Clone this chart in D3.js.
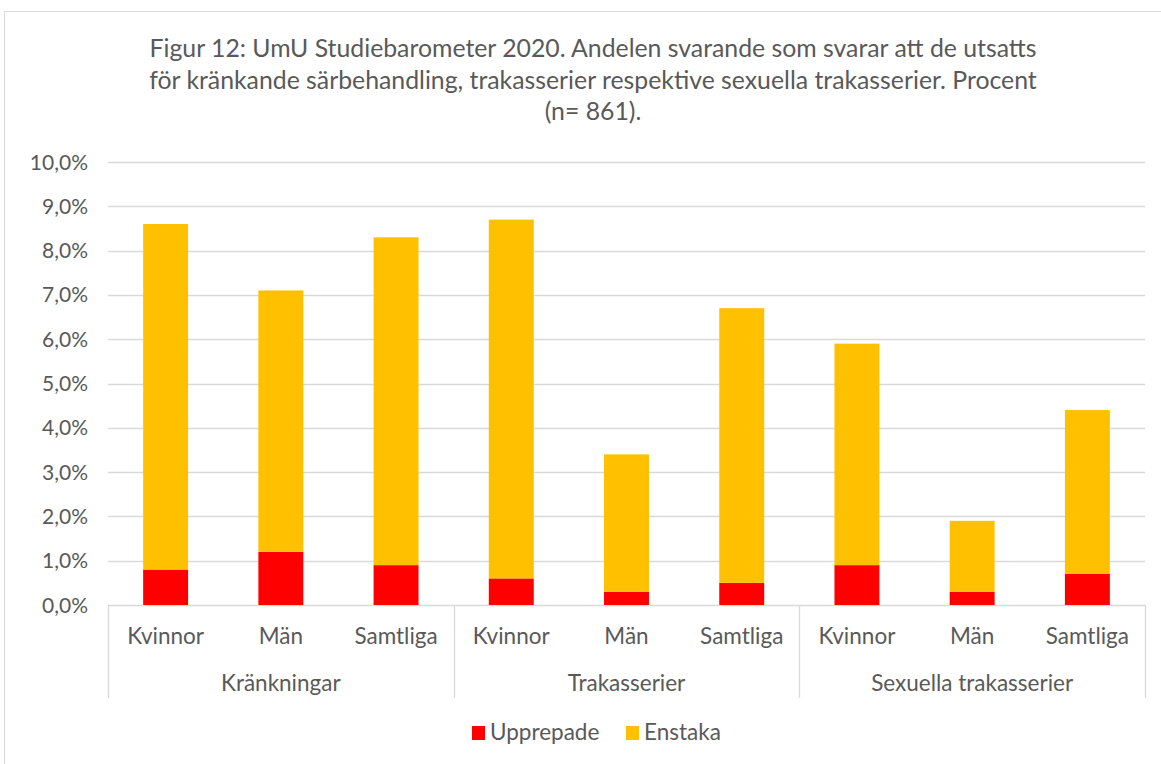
<!DOCTYPE html>
<html>
<head>
<meta charset="utf-8">
<script src="https://cdn.jsdelivr.net/npm/d3@7"></script>
<style>
  body { margin: 0; background: #fff; }
  text { font-family: Lato, "Open Sans", sans-serif; fill: #595959; }
</style>
</head>
<body>
<script>
// data
var groups = ["Kränkningar", "Trakasserier", "Sexuella trakasserier"];
var subCats = ["Kvinnor", "Män", "Samtliga"];
var upprepade = [0.8, 1.2, 0.9, 0.6, 0.3, 0.5, 0.9, 0.3, 0.7];
var enstaka = [7.8, 5.9, 7.4, 8.1, 3.1, 6.2, 5.0, 1.6, 3.7];
var yTicks = [0, 1, 2, 3, 4, 5, 6, 7, 8, 9, 10];
var titleLines = [
    "Figur 12: UmU Studiebarometer 2020. Andelen svarande som svarar att de utsatts",
    "för kränkande särbehandling, trakasserier respektive sexuella trakasserier. Procent",
    "(n= 861)."
];
var seriesNames = ["Upprepade", "Enstaka"];
var colors = ["#FF0000", "#FFC000"];

var W = 1161, H = 764;
var plotLeft = 108, plotRight = 1145, plotTop = 162, plotBottom = 605;

var svg = d3.select("body").append("svg")
    .attr("width", W).attr("height", H);

// chart border
svg.append("rect")
    .attr("x", 4.5).attr("y", 11.5)
    .attr("width", W + 20).attr("height", H + 20)
    .attr("fill", "none").attr("stroke", "#D9D9D9");

// title
svg.selectAll("text.title").data(titleLines).enter().append("text")
    .attr("class", "title")
    .attr("x", 593)
    .attr("y", function(d, i) { return 57 + i * 31.5; })
    .attr("text-anchor", "middle")
    .style("font-size", "24.8px")
    .text(function(d) { return d; });

var y = d3.scaleLinear().domain([0, 10]).range([plotBottom, plotTop]);

var keys = [];
groups.forEach(function(g) {
    subCats.forEach(function(c) { keys.push(g + "|" + c); });
});

var xGroup = d3.scaleBand().domain(groups).range([plotLeft, plotRight]);
var x = d3.scaleBand().domain(keys).range([plotLeft, plotRight]).paddingInner(0.61).paddingOuter(0.305);

// grid
svg.selectAll("line.grid").data(yTicks).enter().append("line")
    .attr("x1", plotLeft).attr("x2", plotRight)
    .attr("y1", function(d) { return Math.round(y(d)) + 0.5; })
    .attr("y2", function(d) { return Math.round(y(d)) + 0.5; })
    .attr("stroke", "#D9D9D9").attr("stroke-width", 1.3);

// y labels
svg.selectAll("text.ytick").data(yTicks).enter().append("text")
    .attr("x", 88)
    .attr("y", function(d) { return y(d) + 7.5; })
    .attr("text-anchor", "end")
    .style("font-size", "21px")
    .text(function(d) { return d.toFixed(1).replace(".", ",") + "%"; });

// stacked bars
var rows = keys.map(function(k, i) {
    return { key: k, Upprepade: upprepade[i], Enstaka: enstaka[i] };
});
var stacked = d3.stack().keys(seriesNames)(rows);

svg.selectAll("g.series").data(stacked).enter().append("g")
    .attr("fill", function(d, i) { return colors[i]; })
    .selectAll("rect").data(function(d) { return d; }).enter().append("rect")
    .attr("x", function(d) { return x(d.data.key); })
    .attr("width", x.bandwidth())
    .attr("y", function(d) { return y(d[1]); })
    .attr("height", function(d) { return y(d[0]) - y(d[1]); });

// category axis separators
var seps = groups.map(function(g) { return xGroup(g); }).concat([plotRight]);
svg.selectAll("line.sep").data(seps).enter().append("line")
    .attr("x1", function(d) { return Math.round(d) + 0.5; })
    .attr("x2", function(d) { return Math.round(d) + 0.5; })
    .attr("y1", plotBottom).attr("y2", 698)
    .attr("stroke", "#D9D9D9").attr("stroke-width", 1.3);

// sub category labels
svg.selectAll("text.cat").data(keys).enter().append("text")
    .attr("x", function(d) { return x(d) + x.bandwidth() / 2; })
    .attr("y", 644)
    .attr("text-anchor", "middle")
    .style("font-size", "22.5px")
    .text(function(d) { return d.split("|")[1]; });

// group labels
svg.selectAll("text.grp").data(groups).enter().append("text")
    .attr("x", function(d) { return xGroup(d) + xGroup.bandwidth() / 2; })
    .attr("y", 691)
    .attr("text-anchor", "middle")
    .style("font-size", "22.5px")
    .text(function(d) { return d; });

// legend
var legendX = [472, 626];
var lg = svg.selectAll("g.legend").data(seriesNames).enter().append("g")
    .attr("transform", function(d, i) { return "translate(" + legendX[i] + ",726)"; });
lg.append("rect")
    .attr("width", 13).attr("height", 14)
    .attr("fill", function(d, i) { return colors[i]; });
lg.append("text")
    .attr("x", 18).attr("y", 14)
    .style("font-size", "22.5px")
    .text(function(d) { return d; });
</script>
</body>
</html>
